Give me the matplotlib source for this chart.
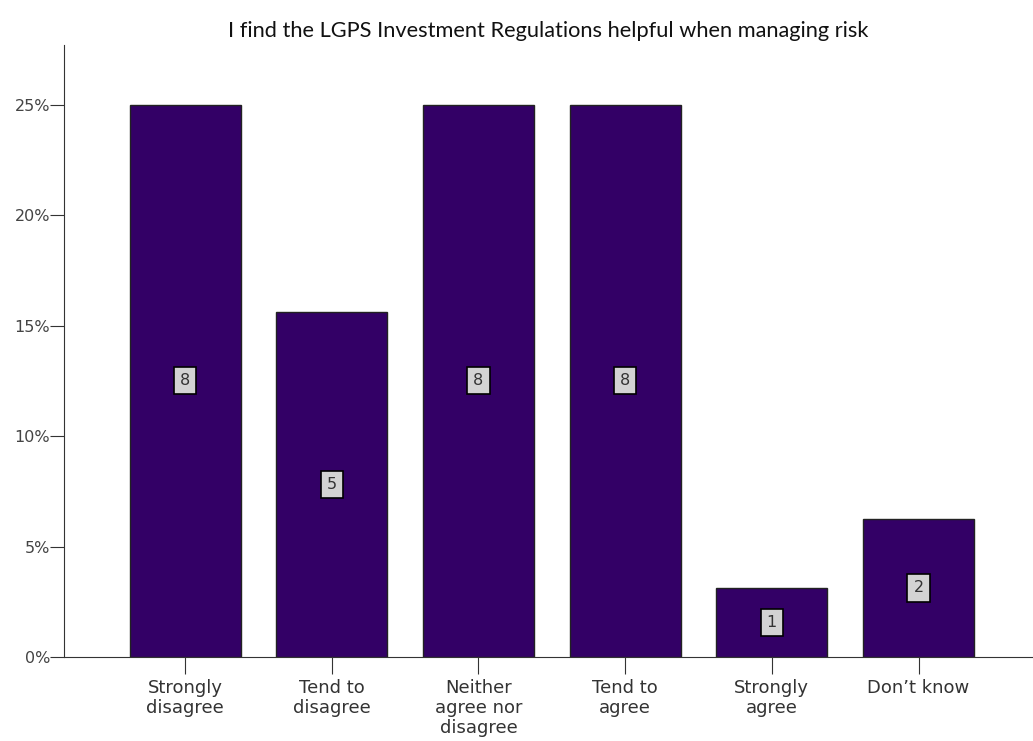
import matplotlib.pyplot as plt
import numpy as np

plt.rcParams["font.family"] = "sans-serif"
plt.rcParams["font.sans-serif"] = ["DejaVu Sans"]

# survey responses
categories = ["Strongly\ndisagree", "Tend to\ndisagree", "Neither\nagree nor\ndisagree",
              "Tend to\nagree", "Strongly\nagree", "Don\u2019t know"]
counts = [8, 5, 8, 8, 1, 2]
total = sum(counts)
percents = [c / total * 100 for c in counts]

fig = plt.figure(figsize=(10.33, 7.41), dpi=100)
ax = fig.add_axes([0.062, 0.1134, 0.938, 0.8256])

x = np.arange(len(categories))
bars = ax.bar(x, percents, width=0.757, color="#330066", edgecolor="#222222", linewidth=1)

# count labels in the middle of each bar
for xi, p, c in zip(x, percents, counts):
    ax.text(xi, p / 2, str(c), ha="center", va="center", fontsize=11.5, color="#333333",
            bbox=dict(boxstyle="square,pad=0.38", facecolor="#d3d3d3", edgecolor="black", linewidth=1.2))

ax.set_xlim(-0.825, 5.78)
ax.set_ylim(0, 27.7)
ax.set_yticks([0, 5, 10, 15, 20, 25])
ax.set_yticklabels(["0%", "5%", "10%", "15%", "20%", "25%"], fontsize=11.5, color="#444444")
ax.set_xticks(x)
ax.set_xticklabels(categories, fontsize=13, color="#333333", linespacing=1.15)

ax.spines["top"].set_visible(False)
ax.spines["right"].set_visible(False)
ax.spines["left"].set_color("#333333")
ax.spines["bottom"].set_color("#333333")
ax.tick_params(axis="y", length=10, color="#333333", pad=0)
ax.tick_params(axis="x", length=12, color="#333333", pad=4)

fig.text(0.531, 0.958, "I find the LGPS Investment Regulations helpful when managing risk",
         ha="center", va="center", fontsize=15.7, family="Lato", color="#111111")

fig.savefig("out.png")
